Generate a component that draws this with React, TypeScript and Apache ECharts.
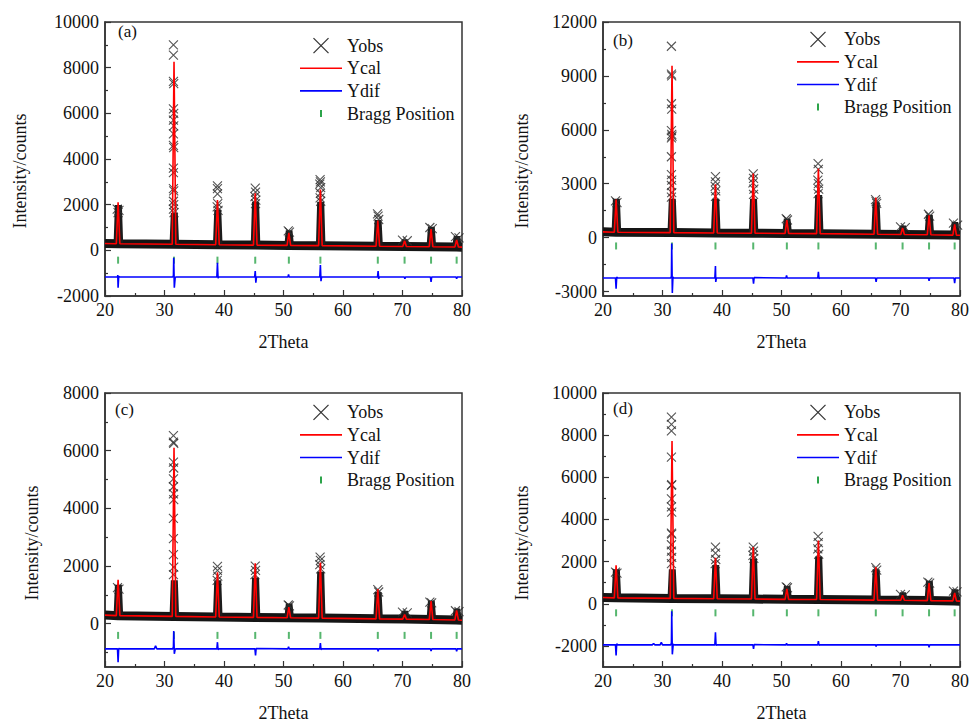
import React, { useEffect, useRef } from "react";
import * as echarts from "echarts";

const FONT = "Liberation Serif";

// Shared: Bragg reflection positions (2θ) and x-axis ticks
const BRAGG_POS = [22.2, 31.6, 38.9, 45.25, 50.9, 56.2, 65.85, 70.35, 74.8, 79.1];
const X_TICKS = [20, 30, 40, 50, 60, 70, 80];
const X_MINOR_TICKS = [25, 35, 45, 55, 65, 75];
const LEGEND_LABELS = ["Yobs", "Ycal", "Ydif", "Bragg Position"];
const PANEL_TAGS = ["(a)", "(b)", "(c)", "(d)"];

// ---------- Panel (a) ----------
const A_Y_RANGE = [-2000, 10000];
const A_Y_TICKS = [-2000, 0, 2000, 4000, 6000, 8000, 10000];
const A_Y_MINOR = [-1000, 1000, 3000, 5000, 7000, 9000];
const A_BG_ENDS = [300, 140];
const A_BASE = [290, 265, 245, 230, 215, 205, 180, 170, 160, 145];
const A_YCAL_PEAKS = [2100, 8260, 2200, 2500, 760, 2660, 1300, 420, 930, 450];
const A_OBS_DENSE = [1850, 1500, 1650, 2000, 750, 2000, 1200, 350, 900, 500];
const A_OBS_CROSSES = [
  [22.05, 1800], [22.35, 1750], [22.2, 1650],
  [31.5, 9000], [31.5, 8550], [31.5, 7400], [31.55, 7300], [31.5, 6200], [31.55, 6000],
  [31.5, 5700], [31.55, 5450], [31.5, 5100], [31.5, 4600], [31.55, 4500], [31.5, 3600],
  [31.5, 3400], [31.5, 2700], [31.55, 2600], [31.5, 2150], [31.55, 2000], [31.5, 1800], [31.6, 1650],
  [38.9, 2820], [38.9, 2700], [38.9, 2470], [38.95, 2050], [38.85, 1900], [39.0, 1750],
  [45.25, 2720], [45.3, 2550], [45.2, 2350], [45.35, 2200], [45.3, 2050],
  [50.8, 850], [51.0, 800],
  [56.15, 3100], [56.2, 3000], [56.1, 2900], [56.25, 2750], [56.2, 2500], [56.15, 2300], [56.25, 2150],
  [65.8, 1600], [65.9, 1500], [66.0, 1350],
  [70.0, 450], [70.8, 420],
  [74.6, 1000], [75.0, 950],
  [78.9, 600], [79.5, 550],
];
const A_YDIF = [
  [20, -1170], [22.1, -1170], [22.15, -1080], [22.2, -1640], [22.3, -1150], [22.5, -1170],
  [31.4, -1170], [31.5, -1100], [31.55, -330], [31.65, -1640], [31.8, -1180], [32, -1170],
  [38.8, -1170], [38.9, -540], [39.0, -1220], [39.1, -1170],
  [45.15, -1170], [45.25, -910], [45.35, -1420], [45.45, -1170],
  [50.75, -1170], [50.85, -1050], [50.95, -1170],
  [56.1, -1170], [56.2, -640], [56.3, -1350], [56.4, -1170],
  [65.8, -1170], [65.9, -910], [66.0, -1250], [66.1, -1170],
  [70.3, -1170], [70.4, -1250], [70.5, -1170],
  [74.7, -1170], [74.8, -1380], [74.9, -1170],
  [79.0, -1170], [79.1, -1250], [79.2, -1170], [80, -1170],
];
const A_BRAGG_Y = -430;

// ---------- Panel (b) ----------
const B_Y_RANGE = [-3250, 12000];
const B_Y_TICKS = [-3000, 0, 3000, 6000, 9000, 12000];
const B_Y_MINOR = [-1500, 1500, 4500, 7500, 10500];
const B_BG_ENDS = [320, 130];
const B_BASE = [300, 280, 260, 245, 230, 220, 190, 175, 160, 140];
const B_YCAL_PEAKS = [2120, 9570, 2970, 3570, 970, 3850, 2230, 540, 1245, 740];
const B_OBS_DENSE = [2000, 2000, 2000, 2000, 900, 2200, 1800, 500, 1100, 700];
const B_OBS_CROSSES = [
  [22.1, 2050], [22.35, 1950],
  [31.5, 10650], [31.5, 9100], [31.55, 9000], [31.5, 7450], [31.55, 7150], [31.5, 5950],
  [31.55, 5750], [31.5, 5550], [31.6, 5650], [31.5, 4500], [31.5, 3500], [31.55, 3200],
  [31.5, 2900], [31.55, 2500], [31.5, 2250],
  [38.9, 3400], [38.9, 3100], [38.85, 2850], [38.95, 2600], [38.9, 2300],
  [45.25, 3550], [45.3, 3300], [45.2, 3050], [45.35, 2700], [45.3, 2400],
  [50.8, 1050], [51.0, 980],
  [56.15, 4120], [56.2, 3800], [56.1, 3200], [56.2, 3000], [56.25, 2700], [56.15, 2450],
  [65.8, 2120], [65.9, 2000], [66.0, 1900],
  [70.0, 600], [70.8, 550],
  [74.7, 1300], [74.9, 1200],
  [78.9, 800], [79.6, 700],
];
const B_YDIF = [
  [20, -2250], [22.1, -2250], [22.2, -2850], [22.3, -2200], [22.5, -2250],
  [31.4, -2250], [31.5, -2150], [31.55, -330], [31.65, -3080], [31.75, -2200], [31.9, -2250],
  [38.8, -2250], [38.9, -1580], [38.95, -2470], [39.05, -2250],
  [45.2, -2250], [45.3, -2560], [45.4, -2230], [45.5, -2250],
  [50.75, -2250], [50.85, -2100], [50.95, -2250],
  [56.1, -2250], [56.2, -1910], [56.3, -2280], [56.4, -2250],
  [65.8, -2250], [65.9, -2470], [66.0, -2250],
  [74.7, -2250], [74.8, -2410], [74.9, -2250],
  [79.0, -2250], [79.1, -2530], [79.2, -2250], [80, -2250],
];
const B_BRAGG_Y = -465;

// ---------- Panel (c) ----------
const C_Y_RANGE = [-1500, 8000];
const C_Y_TICKS = [0, 2000, 4000, 6000, 8000];
const C_Y_MINOR = [-1000, 1000, 3000, 5000, 7000];
const C_BG_ENDS = [300, 120];
const C_BASE = [280, 255, 235, 220, 205, 195, 170, 160, 145, 130];
const C_YCAL_PEAKS = [1520, 6100, 1780, 2100, 580, 2120, 1200, 320, 785, 460];
const C_OBS_DENSE = [1250, 1400, 1400, 1500, 600, 1700, 1000, 350, 700, 420];
const C_OBS_CROSSES = [
  [22.1, 1250], [22.35, 1200],
  [31.5, 6520], [31.5, 6300], [31.55, 6250], [31.5, 5600], [31.55, 5400], [31.5, 5020],
  [31.5, 4750], [31.5, 4500], [31.55, 4300], [31.5, 3650], [31.5, 2950], [31.5, 2400],
  [31.55, 1960], [31.5, 1700],
  [38.9, 1990], [38.9, 1850], [38.95, 1650], [38.85, 1500],
  [45.25, 2000], [45.3, 1850], [45.2, 1700],
  [50.8, 650], [51.0, 620],
  [56.15, 2310], [56.2, 2200], [56.1, 2050], [56.25, 1900],
  [65.85, 1180], [66.0, 1100],
  [70.0, 400], [70.8, 380],
  [74.6, 750], [74.9, 720],
  [78.9, 450], [79.5, 420],
];
const C_YDIF = [
  [20, -870], [22.1, -870], [22.2, -1330], [22.3, -860], [22.5, -870],
  [28.3, -870], [28.5, -760], [28.7, -870],
  [31.4, -870], [31.5, -800], [31.55, -250], [31.65, -1040], [31.8, -880], [32, -870],
  [38.8, -870], [38.9, -640], [39.0, -900], [39.1, -870],
  [45.2, -870], [45.3, -1100], [45.4, -860], [45.5, -870],
  [50.75, -870], [50.85, -800], [50.95, -870],
  [56.1, -870], [56.2, -670], [56.3, -900], [56.4, -870],
  [65.8, -870], [65.9, -960], [66.0, -870],
  [74.7, -870], [74.8, -950], [74.9, -870],
  [79.0, -870], [79.1, -960], [79.2, -870], [80, -870],
];
const C_BRAGG_Y = -404;

// ---------- Panel (d) ----------
const D_Y_RANGE = [-3000, 10000];
const D_Y_TICKS = [-2000, 0, 2000, 4000, 6000, 8000, 10000];
const D_Y_MINOR = [-1000, 1000, 3000, 5000, 7000, 9000];
const D_BG_ENDS = [300, 125];
const D_BASE = [280, 255, 240, 225, 210, 200, 175, 165, 150, 135];
const D_YCAL_PEAKS = [1820, 7720, 2180, 2690, 710, 3000, 1740, 400, 980, 510];
const D_OBS_DENSE = [1500, 1500, 1700, 2000, 700, 2100, 1500, 400, 950, 550];
const D_OBS_CROSSES = [
  [22.1, 1500], [22.35, 1450],
  [31.5, 8860], [31.5, 8510], [31.5, 8200], [31.5, 6960], [31.5, 5620], [31.55, 5650],
  [31.5, 4980], [31.5, 4600], [31.55, 4350], [31.5, 3350], [31.55, 3300], [31.5, 2800],
  [31.5, 2500], [31.55, 2200], [31.5, 1900],
  [38.9, 2690], [38.9, 2400], [38.95, 2100], [38.85, 1900],
  [45.25, 2690], [45.3, 2500], [45.2, 2300], [45.35, 2150],
  [50.8, 800], [51.0, 760],
  [56.15, 3200], [56.2, 2900], [56.1, 2600], [56.25, 2350],
  [65.85, 1710], [66.0, 1600],
  [70.0, 450], [70.8, 420],
  [74.6, 1030], [74.9, 980],
  [78.9, 600], [79.5, 560],
];
const D_YDIF = [
  [20, -1950], [22.1, -1950], [22.2, -2450], [22.3, -1900], [22.5, -1950],
  [28.3, -1950], [28.5, -1880], [28.7, -1950], [29.6, -1950], [29.8, -1830], [30.0, -1950],
  [31.4, -1950], [31.5, -1850], [31.55, -350], [31.65, -2400], [31.8, -1920], [32, -1950],
  [38.8, -1950], [38.9, -1350], [39.0, -1980], [39.1, -1950],
  [45.2, -1950], [45.3, -2140], [45.4, -1940], [45.5, -1950],
  [50.75, -1950], [50.85, -1880], [50.95, -1950],
  [56.1, -1950], [56.2, -1770], [56.3, -1980], [56.4, -1950],
  [65.8, -1950], [65.9, -2030], [66.0, -1950],
  [74.7, -1950], [74.8, -2060], [74.9, -1950], [80, -1950],
];
const D_BRAGG_Y = -430;

type PanelData = {
  yRange: number[];
  yTicks: number[];
  yMinor: number[];
  bgEnds: number[];
  base: number[];
  ycalPeaks: number[];
  obsDense: number[];
  obsCrosses: number[][];
  ydif: number[][];
  braggY: number;
};

const PANELS: PanelData[] = [
  { yRange: A_Y_RANGE, yTicks: A_Y_TICKS, yMinor: A_Y_MINOR, bgEnds: A_BG_ENDS, base: A_BASE, ycalPeaks: A_YCAL_PEAKS, obsDense: A_OBS_DENSE, obsCrosses: A_OBS_CROSSES, ydif: A_YDIF, braggY: A_BRAGG_Y },
  { yRange: B_Y_RANGE, yTicks: B_Y_TICKS, yMinor: B_Y_MINOR, bgEnds: B_BG_ENDS, base: B_BASE, ycalPeaks: B_YCAL_PEAKS, obsDense: B_OBS_DENSE, obsCrosses: B_OBS_CROSSES, ydif: B_YDIF, braggY: B_BRAGG_Y },
  { yRange: C_Y_RANGE, yTicks: C_Y_TICKS, yMinor: C_Y_MINOR, bgEnds: C_BG_ENDS, base: C_BASE, ycalPeaks: C_YCAL_PEAKS, obsDense: C_OBS_DENSE, obsCrosses: C_OBS_CROSSES, ydif: C_YDIF, braggY: C_BRAGG_Y },
  { yRange: D_Y_RANGE, yTicks: D_Y_TICKS, yMinor: D_Y_MINOR, bgEnds: D_BG_ENDS, base: D_BASE, ycalPeaks: D_YCAL_PEAKS, obsDense: D_OBS_DENSE, obsCrosses: D_OBS_CROSSES, ydif: D_YDIF, braggY: D_BRAGG_Y },
];

// Layout (pixels)
const GRID_W = 357;
const GRID_H = 274;
const LAYOUT = [
  { left: 105, top: 22, legend: [321, 45.7], tag: [118, 31.7], ytitle: [20, 171] },
  { left: 603, top: 22, legend: [818, 39.3], tag: [613, 40], ytitle: [522, 171] },
  { left: 105, top: 393, legend: [321, 412.3], tag: [115, 409], ytitle: [32, 543] },
  { left: 603, top: 393, legend: [818, 412.3], tag: [613, 408], ytitle: [522, 543] },
];

const AXIS_COLOR = "#333";
const TEXT_COLOR = "#111";
const RED = "#ff0000";
const BLUE = "#0000ff";
const GREEN = "#2ca44a";
const CROSS = "path://M0 0L10 10M10 0L0 10";

function buildYcal(p: PanelData) {
  const pts: number[][] = [[20, p.bgEnds[0]]];
  BRAGG_POS.forEach((x, i) => {
    pts.push([x - 0.3, p.base[i]], [x, p.ycalPeaks[i]], [x + 0.3, p.base[i]]);
  });
  pts.push([80, p.bgEnds[1]]);
  return pts;
}

// background noise band of the observed pattern
function buildBand(p: PanelData) {
  const pts: number[][] = [[20, p.bgEnds[0]]];
  BRAGG_POS.forEach((x, i) => pts.push([x, p.base[i]]));
  pts.push([80, p.bgEnds[1]]);
  return pts;
}

// dense observed columns at each reflection (separate segments)
function buildColumns(p: PanelData) {
  const pts: any[] = [];
  BRAGG_POS.forEach((x, i) => {
    pts.push([x - 0.25, p.base[i]], [x - 0.05, p.obsDense[i]], [x + 0.15, p.obsDense[i]], [x + 0.35, p.base[i]], "-");
  });
  return pts;
}

function textStyle(size: number) {
  return { fontFamily: FONT, fontSize: size, color: TEXT_COLOR };
}

function buildOption() {
  const grid: any[] = [];
  const xAxis: any[] = [];
  const yAxis: any[] = [];
  const series: any[] = [];
  const graphic: any[] = [];

  PANELS.forEach((p, i) => {
    const L = LAYOUT[i];
    grid.push({
      left: L.left, top: L.top, width: GRID_W, height: GRID_H,
      show: true, borderColor: AXIS_COLOR, borderWidth: 1.5, backgroundColor: "transparent",
      containLabel: false, outerBoundsMode: "none",
    });
    xAxis.push({
      type: "value", gridIndex: i, min: 20, max: 80, interval: 10, position: "bottom",
      axisLine: { show: true, onZero: false, lineStyle: { color: AXIS_COLOR, width: 1.5 } },
      axisTick: { show: true, inside: true, length: 6, customValues: X_TICKS, lineStyle: { color: AXIS_COLOR, width: 1.2 } },
      axisLabel: { ...textStyle(18), margin: 5, customValues: X_TICKS, showMinLabel: true, showMaxLabel: true, formatter: (v: number) => String(v) },
      splitLine: { show: false },
      name: "2Theta", nameLocation: "middle", nameGap: 37, nameTextStyle: textStyle(18),
    });
    xAxis.push({
      type: "value", gridIndex: i, min: 20, max: 80, position: "bottom",
      axisLine: { show: false, onZero: false },
      axisTick: { show: true, inside: true, length: 3, customValues: X_MINOR_TICKS, lineStyle: { color: AXIS_COLOR, width: 1.2 } },
      axisLabel: { show: false },
      splitLine: { show: false },
    });
    yAxis.push({
      type: "value", gridIndex: i, min: p.yRange[0], max: p.yRange[1], position: "left",
      axisLine: { show: true, onZero: false, lineStyle: { color: AXIS_COLOR, width: 1.5 } },
      axisTick: { show: true, inside: true, length: 6, customValues: p.yTicks, lineStyle: { color: AXIS_COLOR, width: 1.2 } },
      axisLabel: { ...textStyle(18), margin: 6, customValues: p.yTicks, showMinLabel: true, showMaxLabel: true, formatter: (v: number) => String(v) },
      splitLine: { show: false },
    });
    yAxis.push({
      type: "value", gridIndex: i, min: p.yRange[0], max: p.yRange[1], position: "left",
      axisLine: { show: false, onZero: false },
      axisTick: { show: true, inside: true, length: 3, customValues: p.yMinor, lineStyle: { color: AXIS_COLOR, width: 1.2 } },
      axisLabel: { show: false },
      splitLine: { show: false },
    });

    const xi = 2 * i;
    const yi = 2 * i;
    series.push({
      name: "Yobs band", type: "line", xAxisIndex: xi, yAxisIndex: yi, data: buildBand(p),
      symbol: "none", lineStyle: { color: "#151515", width: 9 }, z: 1, silent: true,
    });
    series.push({
      name: "Yobs columns", type: "line", xAxisIndex: xi, yAxisIndex: yi, data: buildColumns(p),
      connectNulls: false, symbol: "none", lineStyle: { color: "#1c1c1c", width: 6, join: "miter" }, z: 1, silent: true,
    });
    series.push({
      name: "Yobs", type: "scatter", xAxisIndex: xi, yAxisIndex: yi, data: p.obsCrosses,
      symbol: CROSS, symbolSize: 9,
      itemStyle: { color: "transparent", borderColor: "#2a2a2a", borderWidth: 1.1 }, z: 2, silent: true,
    });
    series.push({
      name: "Bragg Position", type: "scatter", xAxisIndex: xi, yAxisIndex: yi,
      data: BRAGG_POS.map((x) => [x, p.braggY]),
      symbol: "rect", symbolSize: [2, 7], itemStyle: { color: GREEN }, z: 2, silent: true,
    });
    series.push({
      name: "Ydif", type: "line", xAxisIndex: xi, yAxisIndex: yi, data: p.ydif,
      symbol: "none", lineStyle: { color: BLUE, width: 1.6 }, z: 3, silent: true,
    });
    series.push({
      name: "Ycal", type: "line", xAxisIndex: xi, yAxisIndex: yi, data: buildYcal(p),
      symbol: "none", lineStyle: { color: RED, width: 1.6 }, z: 4, silent: true,
    });

    // Legend
    const [lx, ly] = L.legend;
    const gap = 22.6;
    const txt = (t: string, y: number) => ({
      type: "text", x: 26, y,
      style: { text: t, fontFamily: FONT, fontSize: 18, fill: TEXT_COLOR, textAlign: "left", textVerticalAlign: "middle", align: "left", verticalAlign: "middle" },
    });
    graphic.push({
      type: "group", x: lx, y: ly, silent: true,
      children: [
        { type: "line", shape: { x1: -7.5, y1: -7.5, x2: 7.5, y2: 7.5 }, style: { stroke: "#333", lineWidth: 1.2 } },
        { type: "line", shape: { x1: -7.5, y1: 7.5, x2: 7.5, y2: -7.5 }, style: { stroke: "#333", lineWidth: 1.2 } },
        txt(LEGEND_LABELS[0], 0),
        { type: "line", shape: { x1: -21, y1: gap, x2: 21, y2: gap }, style: { stroke: RED, lineWidth: 1.6 } },
        txt(LEGEND_LABELS[1], gap),
        { type: "line", shape: { x1: -21, y1: 2 * gap, x2: 21, y2: 2 * gap }, style: { stroke: BLUE, lineWidth: 1.6 } },
        txt(LEGEND_LABELS[2], 2 * gap),
        { type: "rect", shape: { x: -1, y: 3 * gap - 3.5, width: 2, height: 7 }, style: { fill: GREEN } },
        txt(LEGEND_LABELS[3], 3 * gap),
      ],
    });
    // Panel tag
    graphic.push({
      type: "text", x: L.tag[0], y: L.tag[1], silent: true,
      style: { text: PANEL_TAGS[i], fontFamily: FONT, fontSize: 17, fill: TEXT_COLOR, textAlign: "left", textVerticalAlign: "middle", align: "left", verticalAlign: "middle" },
    });
    // Y-axis title
    graphic.push({
      type: "text", x: L.ytitle[0], y: L.ytitle[1], rotation: Math.PI / 2, silent: true,
      style: { text: "Intensity/counts", fontFamily: FONT, fontSize: 18, fill: TEXT_COLOR, textAlign: "center", textVerticalAlign: "middle", align: "center", verticalAlign: "middle" },
    });
  });

  return {
    animation: false,
    backgroundColor: "#ffffff",
    grid, xAxis, yAxis, series, graphic,
  };
}

export default function App() {
  const ref = useRef<HTMLDivElement>(null);
  useEffect(() => {
    document.body.style.margin = "0";
    if (!ref.current) return;
    const chart = echarts.init(ref.current, undefined, { renderer: "svg" });
    chart.setOption(buildOption() as any);
    return () => chart.dispose();
  }, []);
  return <div ref={ref} style={{ width: 969, height: 722 }} />;
}
